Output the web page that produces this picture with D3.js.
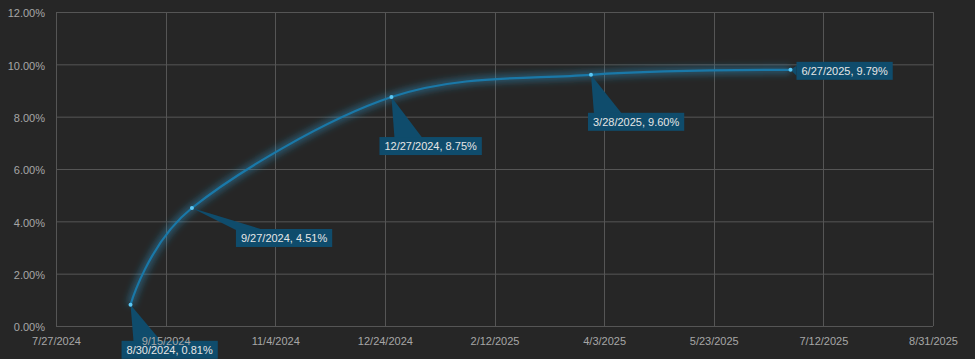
<!DOCTYPE html>
<html>
<head>
<meta charset="utf-8">
<script src="https://cdn.jsdelivr.net/npm/d3@7"></script>
<style>
  html, body { margin: 0; padding: 0; background: #262626; }
  svg { display: block; font-family: "Liberation Sans", Arial, sans-serif; }
</style>
</head>
<body>
<div id="chart"></div>
<script>
// data
var dates = ["2024-08-30", "2024-09-27", "2024-12-27", "2025-03-28", "2025-06-27"];
var values = [0.81, 4.51, 8.75, 9.60, 9.79];
var xTicks = ["2024-07-27", "2024-09-15", "2024-11-04", "2024-12-24", "2025-02-12",
  "2025-04-03", "2025-05-23", "2025-07-12", "2025-08-31"];
var yTicks = [0, 2, 4, 6, 8, 10, 12];

// label box offsets from the point (style only)
var labelOffsets = [[-9, 36], [44, 21], [-12, 40], [-3, 38], [6, -8]];

var parse = d3.timeParse("%Y-%m-%d");
var fmtDate = d3.timeFormat("%-m/%-d/%Y");

var width = 975, height = 359;
var svg = d3.select("#chart").append("svg")
  .attr("width", width).attr("height", height);

svg.append("rect").attr("width", width).attr("height", height).attr("fill", "#262626");

var x = d3.scaleTime()
  .domain([parse(xTicks[0]), parse(xTicks[xTicks.length - 1])])
  .range([56, 933]);
var y = d3.scaleLinear().domain([0, 12]).range([326, 12]);

//grid
svg.append("g").selectAll("line").data(yTicks).enter().append("line")
  .attr("x1", x.range()[0]).attr("x2", x.range()[1])
  .attr("y1", d => y(d) + 0.5).attr("y2", d => y(d) + 0.5)
  .attr("stroke", "#555").attr("stroke-width", 1);

svg.append("g").selectAll("line").data(xTicks).enter().append("line")
  .attr("x1", d => Math.round(x(parse(d))) + 0.5).attr("x2", d => Math.round(x(parse(d))) + 0.5)
  .attr("y1", y(12)).attr("y2", y(0))
  .attr("stroke", "#555").attr("stroke-width", 1);

//y axis
var yAxis = svg.append("g")
  .attr("transform", "translate(" + (x.range()[0] - 4) + ",0)")
  .call(d3.axisLeft(y).tickValues(yTicks).tickSize(0).tickFormat(d => d.toFixed(2) + "%"));
yAxis.select(".domain").remove();
yAxis.selectAll("text").attr("fill", "#a6a6a6").attr("font-size", "11px")
  .attr("font-family", "Liberation Sans, Arial, sans-serif").attr("dx", "-4").attr("dy", "0.45em");

//line
var pts = dates.map((d, i) => [x(parse(d)), y(values[i])]);
var line = d3.line().curve(d3.curveCardinal.tension(0));

var defs = svg.append("defs");
var glow = defs.append("filter").attr("id", "glow")
  .attr("x", "-20%").attr("y", "-20%").attr("width", "140%").attr("height", "140%");
glow.append("feGaussianBlur").attr("stdDeviation", 3.5);

svg.append("path").attr("d", line(pts))
  .attr("fill", "none").attr("stroke", "#2a9fd8").attr("stroke-width", 7)
  .attr("stroke-opacity", 0.45).attr("filter", "url(#glow)");
svg.append("path").attr("d", line(pts))
  .attr("fill", "none").attr("stroke", "#1a78a8").attr("stroke-width", 2.2);

//callouts
var boxH = 18;
var labels = svg.append("g");
pts.forEach(function (p, i) {
  var text = fmtDate(parse(dates[i])) + ", " + values[i].toFixed(2) + "%";
  var t = labels.append("text").text(text)
    .attr("font-size", "11px").attr("fill", "#e6e6e6");
  var w = t.node().getComputedTextLength() + 10;
  var bx = p[0] + labelOffsets[i][0];
  var by = p[1] + labelOffsets[i][1];
  var wedge;
  if (i === pts.length - 1) {
    wedge = [[p[0], p[1]], [bx, by + 4], [bx, by + 14]];
  } else {
    var a = Math.max(bx, p[0] + 3);
    wedge = [[p[0], p[1]], [a, by + 1], [a + 28, by + 1]];
  }
  labels.insert("polygon", "text").attr("points", wedge.map(q => q.join(",")).join(" "))
    .attr("fill", "#0f4c6c");
  labels.insert("rect", "text").attr("x", bx).attr("y", by).attr("width", w).attr("height", boxH)
    .attr("fill", "#0f4c6c");
  t.attr("x", bx + 5).attr("y", by + 13);
});

//points
svg.append("g").selectAll("circle").data(pts).enter().append("circle")
  .attr("cx", d => d[0]).attr("cy", d => d[1]).attr("r", 2)
  .attr("fill", "#5cc8f5");

//x axis, drawn last like the reference (tick text shows over the first callout)
var xAxis = svg.append("g")
  .attr("transform", "translate(0," + y(0) + ")")
  .call(d3.axisBottom(x).tickValues(xTicks.map(parse)).tickSize(0).tickFormat(fmtDate));
xAxis.select(".domain").remove();
xAxis.selectAll("text").attr("fill", "#a6a6a6").attr("font-size", "11px")
  .attr("font-family", "Liberation Sans, Arial, sans-serif").attr("dy", "1.45em");
</script>
</body>
</html>
